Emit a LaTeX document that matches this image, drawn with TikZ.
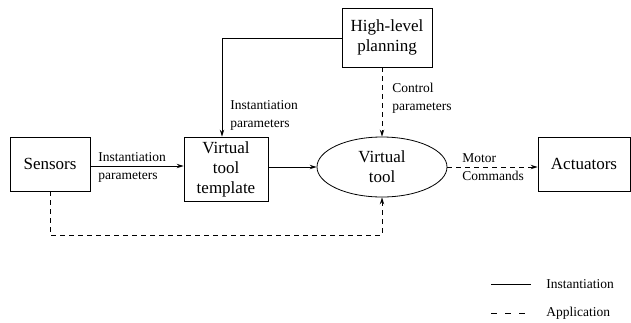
\documentclass[tikz,border=0pt]{standalone}
\usepackage{fontspec}
\setmainfont{Liberation Serif}
\usetikzlibrary{arrows.meta,shapes.geometric}
\begin{document}
\begin{tikzpicture}[x=1pt,y=-1pt,line width=0.8pt,
  box/.style={draw,inner sep=0pt,font=\fontsize{17}{20}\selectfont,align=center},
  lbl/.style={font=\fontsize{13.5}{18}\selectfont,align=left,inner sep=0pt,anchor=west},
  arr/.style={-{Stealth[length=7pt,width=4.5pt,open]}},
  dsh/.style={dashed,dash pattern=on 5pt off 4pt}]
\useasboundingbox (0,0) rectangle (631,322);
\node[box,minimum width=80pt,minimum height=54pt] (sens) at (50,164) {Sensors};
\node[box,minimum width=84pt,minimum height=64pt] (vtt) at (226,169) {Virtual\\tool\\template};
\node[box,minimum width=90pt,minimum height=59pt] (hlp) at (387,37.5) {High-level\\planning};
\node[draw,ellipse,inner sep=0pt,minimum width=130pt,minimum height=60pt,font=\fontsize{17}{20}\selectfont,align=center] (vt) at (382,167) {Virtual\\tool};
\node[box,minimum width=92pt,minimum height=54pt] (act) at (584,164) {Actuators};
\coordinate (c1) at (222,38);
\coordinate (c2) at (50,235);
\coordinate (c3) at (382,235);
\draw[arr] (sens.east |- 0,166) -- (vtt.west |- 0,166);
\draw[arr] (hlp.west |- c1) -- (c1) -- (c1 |- vtt.north);
\draw[arr] (vtt.east |- 0,167) -- (vt.west);
\draw[arr,dsh] (hlp.south -| vt.north) -- (vt.north);
\draw[arr,dsh] (vt.east) -- (act.west |- vt.east);
\draw[arr,dsh] (sens.south -| c2) -- (c2) -- (c3) -- (vt.south);
\node[lbl] (l1) at (98,167) {Instantiation\\parameters};
\node[lbl] (l2) at (230,115) {Instantiation\\parameters};
\node[lbl] (l3) at (392,98) {Control\\parameters};
\node[lbl] (l4) at (462,167) {Motor\\Commands};
\coordinate (s1) at (491,284);
\coordinate (s2) at (531,284);
\coordinate (d1) at (491,313);
\coordinate (d2) at (527,313);
\draw (s1) -- (s2);
\draw[dash pattern=on 6pt off 8pt] (d1) -- (d2);
\node[lbl] (li) at (546,284) {Instantiation};
\node[lbl] (la) at (546,313) {Application};
\end{tikzpicture}
\end{document}
